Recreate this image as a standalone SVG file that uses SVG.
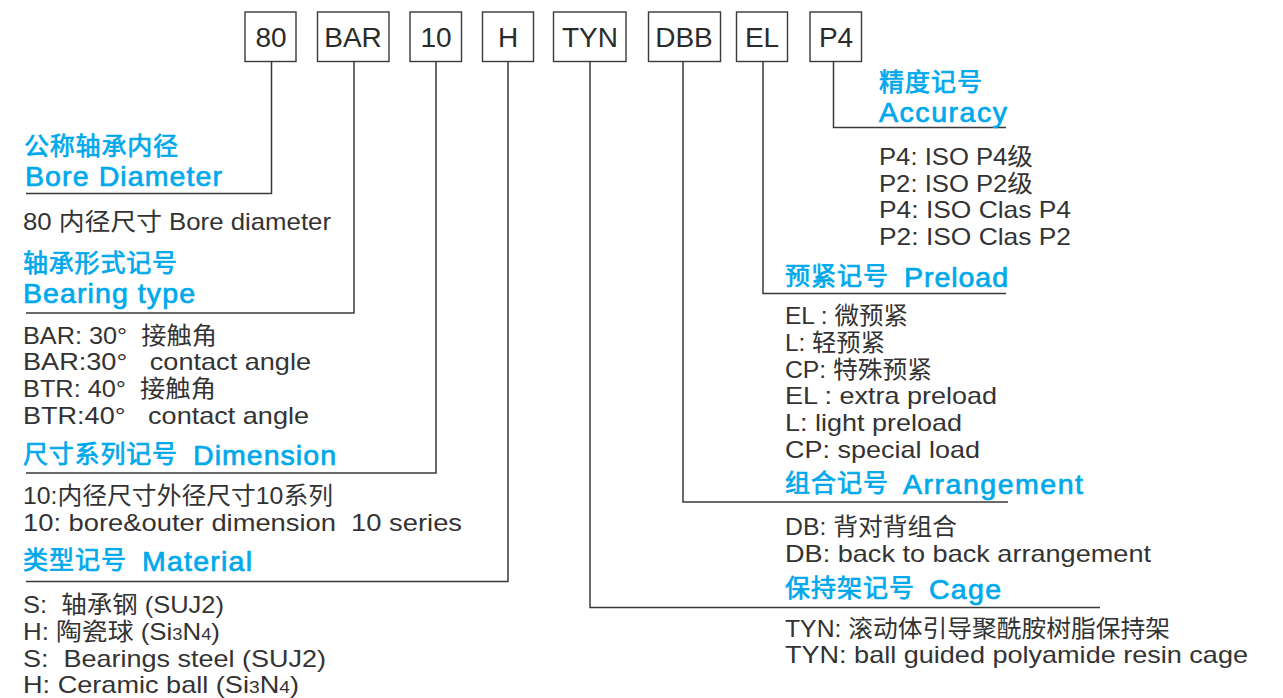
<svg xmlns="http://www.w3.org/2000/svg" width="1283" height="698" viewBox="0 0 1283 698">
<style>
.bx{fill:#fff;stroke:#3a3a3a;stroke-width:1.4}
.bt{font-family:"Liberation Sans","Noto Sans CJK SC",sans-serif;font-size:28px;fill:#2b2b2b;text-anchor:middle}
.ln{fill:none;stroke:#3a3a3a;stroke-width:1.5}
.h{font-family:"Liberation Sans","Noto Sans CJK SC",sans-serif;font-size:28.5px;fill:#00a8ec;stroke:#00a8ec;stroke-width:0.7}
.hc{font-family:"Noto Sans CJK SC",sans-serif;font-size:25px;fill:#00a8ec;stroke:#00a8ec;stroke-width:0.7}
.t{font-family:"Liberation Sans","Noto Sans CJK SC",sans-serif;font-size:24px;fill:#333}
.s{font-size:17px}
</style>
<rect width="1283" height="698" fill="#fff"/>
<g id="connectors">
<path class="ln" d="M271.5 61.5V193.5H26"/>
<path class="ln" d="M354 61.5V313H26"/>
<path class="ln" d="M436 61.5V473H26"/>
<path class="ln" d="M508 61.5V581.5H26"/>
<path class="ln" d="M590 61.5V607.5H1100"/>
<path class="ln" d="M683 61.5V502H1008"/>
<path class="ln" d="M763 61.5V293.5H1006"/>
<path class="ln" d="M833.5 61.5V127.5H1006"/>
</g>
<g id="n80"><rect class="bx" x="245" y="12" width="51" height="49.5"/><text class="bt" x="271" y="47">80</text></g>
<g id="nBAR"><rect class="bx" x="317.5" y="12" width="71.5" height="49.5"/><text class="bt" x="353" y="47">BAR</text></g>
<g id="n10"><rect class="bx" x="410" y="12" width="51.5" height="49.5"/><text class="bt" x="436" y="47">10</text></g>
<g id="nH"><rect class="bx" x="482.5" y="12" width="51" height="49.5"/><text class="bt" x="508" y="47">H</text></g>
<g id="nTYN"><rect class="bx" x="553.5" y="12" width="72.5" height="49.5"/><text class="bt" x="590" y="47">TYN</text></g>
<g id="nDBB"><rect class="bx" x="648.5" y="12" width="72" height="49.5"/><text class="bt" x="684" y="47">DBB</text></g>
<g id="nEL"><rect class="bx" x="736.5" y="12" width="51" height="49.5"/><text class="bt" x="762" y="47">EL</text></g>
<g id="nP4"><rect class="bx" x="810" y="12" width="51.5" height="49.5"/><text class="bt" x="836" y="47">P4</text></g>

<g id="bore">
<text class="hc" x="24" y="155" textLength="154">公称轴承内径</text>
<text class="h" x="25" y="186" textLength="197">Bore Diameter</text>
<text class="t" x="23" y="230" textLength="308" lengthAdjust="spacingAndGlyphs">80 内径尺寸 Bore diameter</text>
</g>
<g id="type">
<text class="hc" x="23" y="272" textLength="154">轴承形式记号</text>
<text class="h" x="23" y="303" textLength="172">Bearing type</text>
<text class="t" x="23" y="344" textLength="194" lengthAdjust="spacingAndGlyphs" xml:space="preserve">BAR: 30°  接触角</text>
<text class="t" x="23" y="370" textLength="288" lengthAdjust="spacingAndGlyphs" xml:space="preserve">BAR:30°   contact angle</text>
<text class="t" x="23" y="397" textLength="193" lengthAdjust="spacingAndGlyphs" xml:space="preserve">BTR: 40°  接触角</text>
<text class="t" x="23" y="424" textLength="286" lengthAdjust="spacingAndGlyphs" xml:space="preserve">BTR:40°   contact angle</text>
</g>
<g id="dimension">
<text class="hc" x="23" y="463" textLength="154">尺寸系列记号</text>
<text class="h" x="193" y="465" textLength="143">Dimension</text>
<text class="t" x="23" y="504" textLength="310" lengthAdjust="spacingAndGlyphs">10:内径尺寸外径尺寸10系列</text>
<text class="t" x="23" y="531" textLength="439" lengthAdjust="spacingAndGlyphs" xml:space="preserve">10: bore&amp;outer dimension  10 series</text>
</g>
<g id="material">
<text class="hc" x="23" y="569" textLength="103">类型记号</text>
<text class="h" x="142" y="571" textLength="110">Material</text>
<text class="t" x="23" y="613" textLength="201" lengthAdjust="spacingAndGlyphs" xml:space="preserve">S:  轴承钢 (SUJ2)</text>
<text class="t" x="23" y="640" textLength="197" lengthAdjust="spacingAndGlyphs">H: 陶瓷球 (Si<tspan class="s">3</tspan>N<tspan class="s">4</tspan>)</text>
<text class="t" x="23" y="667" textLength="303" lengthAdjust="spacingAndGlyphs" xml:space="preserve">S:  Bearings steel (SUJ2)</text>
<text class="t" x="23" y="693" textLength="276" lengthAdjust="spacingAndGlyphs">H: Ceramic ball (Si<tspan class="s">3</tspan>N<tspan class="s">4</tspan>)</text>
</g>
<g id="accuracy">
<text class="hc" x="879" y="91" textLength="103">精度记号</text>
<text class="h" x="879" y="121.5" textLength="128">Accuracy</text>
<text class="t" x="879" y="165" textLength="154" lengthAdjust="spacingAndGlyphs">P4: ISO P4级</text>
<text class="t" x="879" y="191.5" textLength="154" lengthAdjust="spacingAndGlyphs">P2: ISO P2级</text>
<text class="t" x="879" y="218" textLength="192" lengthAdjust="spacingAndGlyphs">P4: ISO Clas P4</text>
<text class="t" x="879" y="244.5" textLength="192" lengthAdjust="spacingAndGlyphs">P2: ISO Clas P2</text>
</g>
<g id="preload">
<text class="hc" x="785" y="285" textLength="103">预紧记号</text>
<text class="h" x="904" y="286.5" textLength="104">Preload</text>
<text class="t" x="785" y="323.5" textLength="123" lengthAdjust="spacingAndGlyphs">EL : 微预紧</text>
<text class="t" x="785" y="350.5" textLength="100" lengthAdjust="spacingAndGlyphs">L: 轻预紧</text>
<text class="t" x="785" y="377.5" textLength="147" lengthAdjust="spacingAndGlyphs">CP: 特殊预紧</text>
<text class="t" x="785" y="404" textLength="212" lengthAdjust="spacingAndGlyphs">EL : extra preload</text>
<text class="t" x="785" y="430.5" textLength="177" lengthAdjust="spacingAndGlyphs">L: light preload</text>
<text class="t" x="785" y="457.5" textLength="195" lengthAdjust="spacingAndGlyphs">CP: special load</text>
</g>
<g id="arrangement">
<text class="hc" x="785" y="491.5" textLength="103">组合记号</text>
<text class="h" x="903" y="493.5" textLength="180">Arrangement</text>
<text class="t" x="785" y="535" textLength="172" lengthAdjust="spacingAndGlyphs">DB: 背对背组合</text>
<text class="t" x="785" y="562" textLength="366" lengthAdjust="spacingAndGlyphs">DB: back to back arrangement</text>
</g>
<g id="cage">
<text class="hc" x="785" y="596.5" textLength="129">保持架记号</text>
<text class="h" x="929" y="598.5" textLength="72">Cage</text>
<text class="t" x="785" y="637" textLength="385" lengthAdjust="spacingAndGlyphs">TYN: 滚动体引导聚酰胺树脂保持架</text>
<text class="t" x="785" y="663" textLength="463" lengthAdjust="spacingAndGlyphs">TYN: ball guided polyamide resin cage</text>
</g>
</svg>
